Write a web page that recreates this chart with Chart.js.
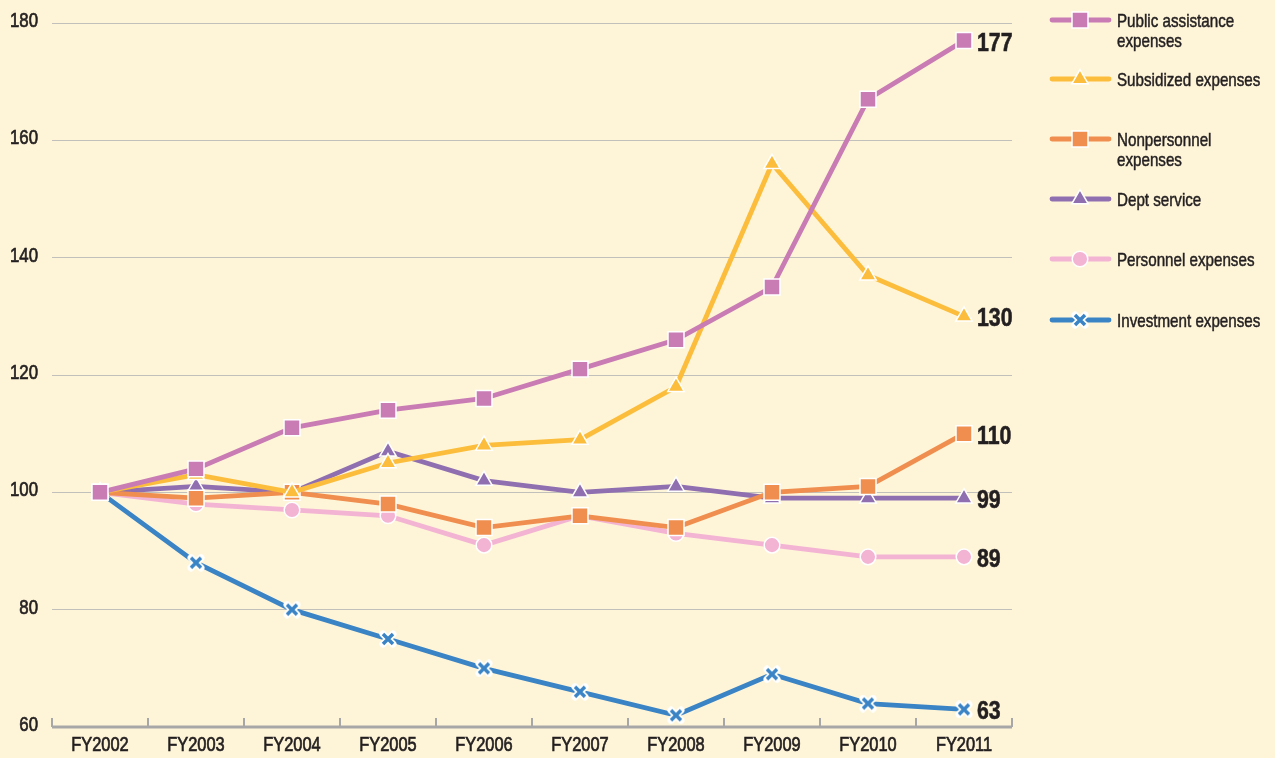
<!DOCTYPE html>
<html>
<head>
<meta charset="utf-8">
<title>Expense index FY2002-FY2011</title>
<script src="https://cdn.jsdelivr.net/npm/chart.js@4/dist/chart.umd.min.js"></script>
<style>
  html, body { margin: 0; padding: 0; background: #fef5d8; }
  #wrap { width: 1275px; height: 758px; position: relative; }
</style>
</head>
<body>
<div id="wrap"><canvas id="expChart"></canvas></div>
<script>
// --- data (FY2002 = 100) ---
const years = ['FY2002', 'FY2003', 'FY2004', 'FY2005', 'FY2006', 'FY2007', 'FY2008', 'FY2009', 'FY2010', 'FY2011'];
const publicAssistance = [100, 104, 111, 114, 116, 121, 126, 135, 167, 177];
const subsidized      = [100, 103, 100, 105, 108, 109, 118, 156, 137, 130];
const nonpersonnel    = [100, 99, 100, 98, 94, 96, 94, 100, 101, 110];
const deptService     = [100, 101, 100, 107, 102, 100, 101, 99, 99, 99];
const personnel       = [100, 98, 97, 96, 91, 96, 93, 91, 89, 89];
const investment      = [100, 88, 80, 75, 70, 66, 62, 69, 64, 63];
const yTicks = [60, 80, 100, 120, 140, 160, 180];

const seriesNames = [
  ['Public assistance', 'expenses'],
  ['Subsidized expenses'],
  ['Nonpersonnel', 'expenses'],
  ['Dept service'],
  ['Personnel expenses'],
  ['Investment expenses']
];

// no narrow face installed, so Liberation Sans is squeezed horizontally
const FONT = '"Liberation Sans", Arial, sans-serif';
const SQUEEZE = 0.82;
const TEXT = '#231f20';

function narrowText(ctx, text, x, y, align, font, weight) {
  ctx.save();
  ctx.font = font;
  ctx.fillStyle = TEXT;
  ctx.strokeStyle = TEXT;
  ctx.textAlign = align;
  ctx.textBaseline = 'alphabetic';
  ctx.translate(x, y);
  ctx.scale(SQUEEZE, 1);
  ctx.fillText(text, 0, 0);
  if (weight) {
    // a thin outline gives the regular face a medium look
    ctx.lineWidth = weight;
    ctx.strokeText(text, 0, 0);
  }
  ctx.restore();
}

// blue cross with a white outline, used as an image point style
function crossMarker(color) {
  const c = document.createElement('canvas');
  c.width = 18; c.height = 18;
  const g = c.getContext('2d');
  const draw = (w, col) => {
    g.strokeStyle = col;
    g.lineWidth = w;
    g.beginPath();
    g.moveTo(4, 4); g.lineTo(14, 14);
    g.moveTo(14, 4); g.lineTo(4, 14);
    g.stroke();
  };
  g.lineCap = 'round';
  draw(7, '#ffffff');
  g.lineCap = 'butt';
  draw(3.5, color);
  return c;
}

const styles = [
  { color: '#c97bb4', pointStyle: 'rect', radius: 11.3 },
  { color: '#fbbd3b', pointStyle: 'triangle', radius: 9.5 },
  { color: '#ef8e4e', pointStyle: 'rect', radius: 11.3 },
  { color: '#8f6fb0', pointStyle: 'triangle', radius: 9.5 },
  { color: '#f3b3d3', pointStyle: 'circle', radius: 7.8 },
  { color: '#3a83c5', pointStyle: crossMarker('#3a83c5'), radius: 9 }
];

const allSeries = [publicAssistance, subsidized, nonpersonnel, deptService, personnel, investment];

const datasets = allSeries.map((values, i) => ({
  label: seriesNames[i].join(' '),
  data: values,
  borderColor: styles[i].color,
  backgroundColor: styles[i].color,
  borderWidth: 4.8,
  tension: 0,
  pointStyle: styles[i].pointStyle,
  pointRadius: styles[i].radius,
  pointBorderColor: '#ffffff',
  pointBorderWidth: 1.5,
  pointBackgroundColor: styles[i].color,
  clip: false
}));

// final value printed to the right of each line
const endLabels = {
  id: 'endLabels',
  afterDatasetsDraw(chart) {
    chart.data.datasets.forEach((ds, i) => {
      const meta = chart.getDatasetMeta(i);
      const pt = meta.data[meta.data.length - 1];
      narrowText(chart.ctx, String(ds.data[ds.data.length - 1]), pt.x + 13, pt.y + 10, 'left', 'bold 26px ' + FONT, 0.6);
    });
  }
};

// grey base line with short upward ticks, plus the axis labels
const baseAxis = {
  id: 'baseAxis',
  beforeDatasetsDraw(chart) {
    const ctx = chart.ctx;
    const area = chart.chartArea;
    const x = chart.scales.x;
    const y = chart.scales.y;
    const step = x.getPixelForValue(1) - x.getPixelForValue(0);
    ctx.save();
    ctx.strokeStyle = '#a7a7a7';
    ctx.lineWidth = 3;
    ctx.beginPath();
    ctx.moveTo(area.left, area.bottom);
    ctx.lineTo(area.right, area.bottom);
    ctx.stroke();
    ctx.lineWidth = 2;
    ctx.beginPath();
    for (let i = 0; i <= years.length; i++) {
      const px = Math.round(x.getPixelForValue(0) - step / 2 + i * step);
      ctx.moveTo(px, area.bottom);
      ctx.lineTo(px, area.bottom - 9);
    }
    ctx.stroke();
    ctx.restore();

    years.forEach((lab, i) => {
      narrowText(ctx, lab, x.getPixelForValue(i), 751, 'center', '20px ' + FONT, 0.7);
    });
    yTicks.forEach(v => {
      narrowText(ctx, String(v), 38, y.getPixelForValue(v) + 4, 'right', '20.5px ' + FONT, 0.7);
    });
  }
};

// legend on the right, labels can wrap onto two lines
const legendRows = [20, 79, 139, 199, 259, 320];
const sideLegend = {
  id: 'sideLegend',
  afterDraw(chart) {
    const ctx = chart.ctx;
    chart.data.datasets.forEach((ds, i) => {
      const y = legendRows[i];
      ctx.save();
      ctx.strokeStyle = ds.borderColor;
      ctx.lineWidth = 4.8;
      ctx.lineCap = 'round';
      ctx.beginPath();
      ctx.moveTo(1052, y);
      ctx.lineTo(1109, y);
      ctx.stroke();
      ctx.fillStyle = ds.pointBackgroundColor;
      ctx.strokeStyle = '#ffffff';
      ctx.lineWidth = 1.5;
      Chart.helpers.drawPoint(ctx, {
        pointStyle: ds.pointStyle, radius: ds.pointRadius, rotation: 0, borderWidth: 1.5
      }, 1080, y);
      ctx.restore();
      seriesNames[i].forEach((line, k) => narrowText(ctx, line, 1117, y + 7 + k * 20, 'left', '18.5px ' + FONT, 0.5));
    });
  }
};

new Chart(document.getElementById('expChart'), {
  type: 'line',
  data: { labels: years, datasets: datasets },
  plugins: [baseAxis, endLabels, sideLegend],
  options: {
    responsive: true,
    maintainAspectRatio: false,
    animation: false,
    layout: { padding: { top: 23, right: 263, bottom: 0, left: 0 } },
    plugins: { legend: { display: false }, tooltip: { enabled: false } },
    scales: {
      x: {
        offset: true,
        grid: { display: false },
        border: { display: false },
        ticks: { display: false },
        afterFit: s => { s.height = 31; }
      },
      y: {
        min: 60,
        max: 180,
        afterBuildTicks: s => { s.ticks = yTicks.map(v => ({ value: v })); },
        grid: { color: '#c2c0bb', lineWidth: 1, drawTicks: false },
        border: { display: false },
        ticks: { display: false },
        afterFit: s => { s.width = 52; }
      }
    }
  }
});
</script>
</body>
</html>
